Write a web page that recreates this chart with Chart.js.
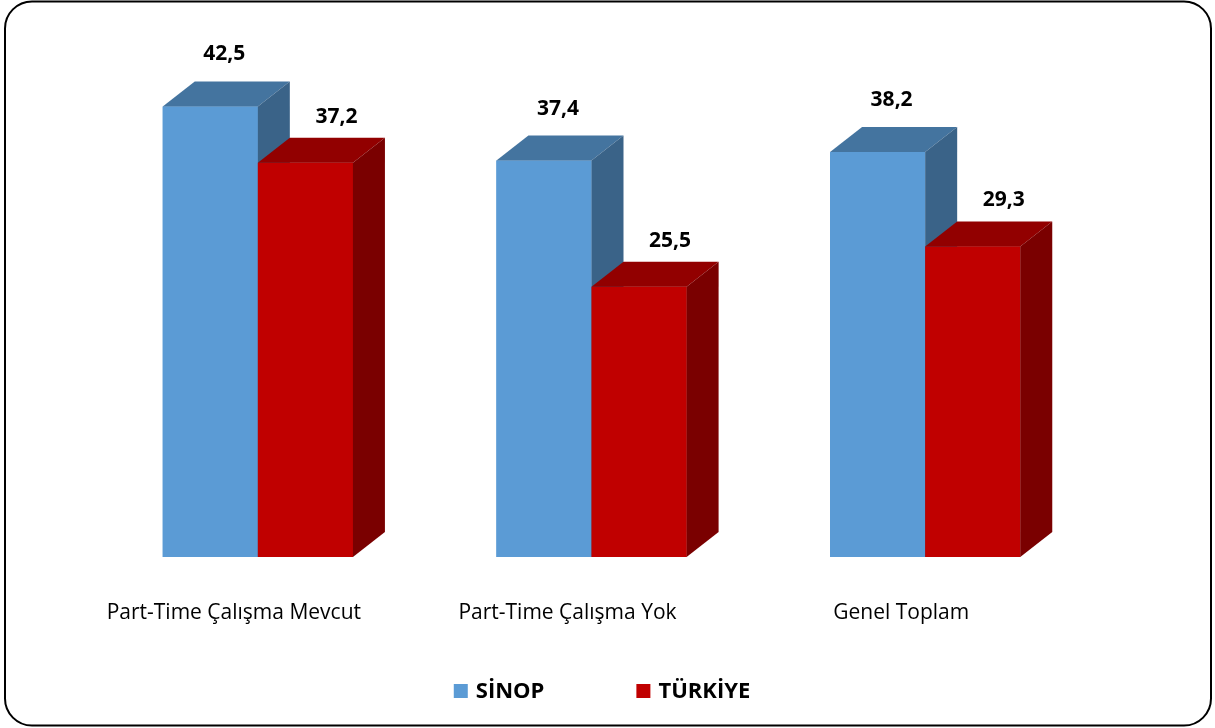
<!DOCTYPE html>
<html>
<head>
<meta charset="utf-8">
<script src="https://cdn.jsdelivr.net/npm/chart.js@4"></script>
<style>
html,body{margin:0;padding:0;background:#fff;}
#wrap{position:relative;width:1215px;height:728px;}
canvas{display:block;}
</style>
</head>
<body>
<div id="wrap"><canvas id="c" width="1215" height="728"></canvas></div>
<script>
const categories = ["Part-Time Çalışma Mevcut", "Part-Time Çalışma Yok", "Genel Toplam"];
const seriesNames = ["SİNOP", "TÜRKİYE"];
const sinopValues = [42.5, 37.4, 38.2];
const turkiyeValues = [37.2, 25.5, 29.3];

const FONT = "'Open Sans', 'DejaVu Sans', sans-serif";
const DX = 32, DY = 25;
const faces = [
  {front: '#5B9BD5', top: '#44749F', side: '#3A6388', lx: 14, ly: 27},
  {front: '#C00000', top: '#920000', side: '#7A0000', lx: 31, ly: 21}
];

function fmt(v){ return v.toFixed(1).replace('.', ','); }

const bar3d = {
  id: 'bar3d',
  beforeDraw(chart){
    const ctx = chart.ctx;
    ctx.save();
    ctx.fillStyle = '#fff';
    ctx.fillRect(0,0,chart.width,chart.height);
    ctx.beginPath();
    ctx.roundRect(5, 1.5, 1206, 724, 27);
    ctx.lineWidth = 2;
    ctx.strokeStyle = '#000';
    ctx.stroke();
    ctx.restore();
  },
  afterDatasetsDraw(chart){
    const ctx = chart.ctx;
    ctx.save();
    // 3D boxes, drawn in dataset order so later series sit in front
    chart.data.datasets.forEach((ds, di) => {
      const meta = chart.getDatasetMeta(di);
      const f = faces[di];
      meta.data.forEach(el => {
        const p = el.getProps(['x','y','base','width'], true);
        const l = p.x - p.width/2, r = p.x + p.width/2, t = p.y, b = p.base;
        ctx.fillStyle = f.front;
        ctx.fillRect(l, t, r - l, b - t);
        ctx.fillStyle = f.top;
        ctx.beginPath();
        ctx.moveTo(l, t); ctx.lineTo(l+DX, t-DY); ctx.lineTo(r+DX, t-DY); ctx.lineTo(r, t); ctx.closePath();
        ctx.fill();
        ctx.fillStyle = f.side;
        ctx.beginPath();
        ctx.moveTo(r, t); ctx.lineTo(r+DX, t-DY); ctx.lineTo(r+DX, b-DY); ctx.lineTo(r, b); ctx.closePath();
        ctx.fill();
      });
    });
    // value labels
    ctx.font = "bold 21px " + FONT;
    ctx.fillStyle = '#000';
    ctx.textAlign = 'center';
    ctx.textBaseline = 'middle';
    chart.data.datasets.forEach((ds, di) => {
      const meta = chart.getDatasetMeta(di);
      const f = faces[di];
      meta.data.forEach((el, i) => {
        const p = el.getProps(['x','y'], true);
        ctx.fillText(fmt(ds.data[i]), p.x + f.lx, p.y - DY - f.ly);
      });
    });
    // legend
    ctx.font = "bold 22px " + FONT;
    ctx.textAlign = 'left';
    const box = 14, gapBox = 8, gapItem = 92;
    const items = chart.data.datasets.map((ds, i) => ({t: ds.label, c: faces[i].front, w: ctx.measureText(ds.label).width}));
    let total = 0;
    items.forEach((it, i) => { total += box + gapBox + it.w + (i < items.length-1 ? gapItem : 0); });
    let x = 602 - total/2;
    const y = 691;
    items.forEach(it => {
      ctx.fillStyle = it.c;
      ctx.fillRect(x, y - box/2, box, box);
      x += box + gapBox;
      ctx.fillStyle = '#000';
      ctx.fillText(it.t, x, y + 1);
      x += it.w + gapItem;
    });
    ctx.restore();
  }
};

new Chart(document.getElementById('c'), {
  type: 'bar',
  data: {
    labels: categories,
    datasets: [
      {label: seriesNames[0], data: sinopValues, backgroundColor: faces[0].front, borderWidth: 0},
      {label: seriesNames[1], data: turkiyeValues, backgroundColor: faces[1].front, borderWidth: 0}
    ]
  },
  options: {
    responsive: false,
    animation: false,
    devicePixelRatio: 1,
    categoryPercentage: 0.57,
    barPercentage: 1,
    layout: {padding: {left: 91, right: 123, top: 80, bottom: 101}},
    plugins: {legend: {display: false}, tooltip: {enabled: false}},
    scales: {
      x: {
        grid: {display: false},
        border: {display: false},
        ticks: {color: '#000', font: {family: FONT, size: 21}, padding: 35, labelOffset: -24, maxRotation: 0},
        afterFit: s => { s.height = 70; }
      },
      y: {
        display: false,
        min: 0,
        max: 45
      }
    }
  },
  plugins: [bar3d]
});
</script>
</body>
</html>
